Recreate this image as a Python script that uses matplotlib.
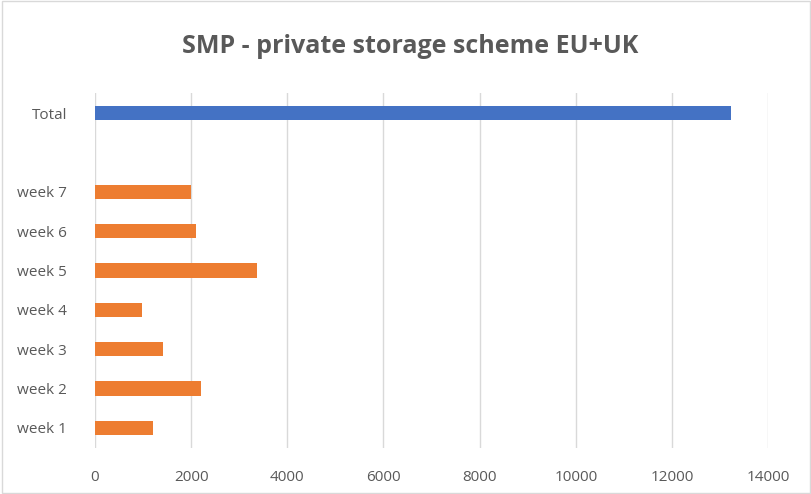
import matplotlib.pyplot as plt

# data
labels = ["week 1", "week 2", "week 3", "week 4", "week 5", "week 6", "week 7", "", "Total"]
weeks = [1215, 2200, 1420, 985, 3370, 2110, 1990]
total = 13230

values = weeks + [0, total]
colors = ["#ED7D31"] * 7 + ["none", "#4472C4"]

plt.rcParams['font.family'] = ['Open Sans', 'DejaVu Sans']

fig = plt.figure(figsize=(8.12, 4.94), dpi=100)
ax = fig.add_axes([0.117, 0.094, 0.829, 0.717])

pos = list(range(len(labels)))
ax.barh(pos, values, height=0.36, color=colors, zorder=3)

ax.set_xlim(0, 14000)
ax.set_ylim(-0.5, len(labels) - 0.5)
ax.set_xticks(range(0, 14001, 2000))
ax.set_yticks(pos)
ax.set_yticklabels(labels)
ax.grid(axis="x", color="#d9d9d9", linewidth=1, zorder=0)
for s in ax.spines.values():
    s.set_visible(False)
ax.tick_params(length=0, colors="#595959", labelsize=11)
ax.tick_params(axis="x", pad=16)
ax.tick_params(axis="y", pad=20)

fig.suptitle("SMP - private storage scheme EU+UK", x=0.505, y=0.905, va="center",
             fontsize=18, fontweight="bold", color="#595959")

# thin frame around the chart area
fig.patches.append(plt.Rectangle((0.002, 0.003), 0.996, 0.994, transform=fig.transFigure,
                                 fill=False, edgecolor="#d9d9d9", linewidth=1))

fig.savefig("out.png", dpi=100)
